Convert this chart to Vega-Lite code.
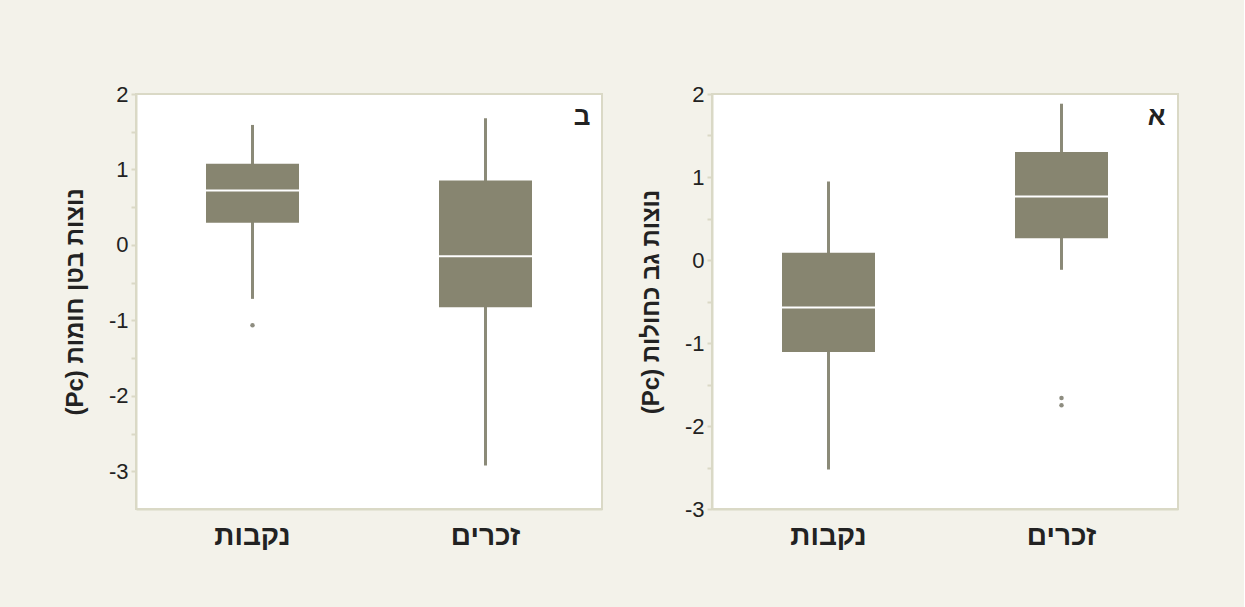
{
  "$schema": "https://vega.github.io/schema/vega-lite/v6.json",
  "background": "#f3f2ea",
  "padding": {"left": 62, "top": 82, "right": 65, "bottom": 57},
  "spacing": 35,
  "config": {
    "view": {"fill": "white", "stroke": "#dad9c6", "strokeWidth": 2},
    "axis": {
      "grid": false,
      "labelFont": "Liberation Sans",
      "labelColor": "#222222",
      "titleFont": "Liberation Sans",
      "titleColor": "#222222",
      "domainColor": "#dad9c6",
      "domainWidth": 2,
      "tickColor": "#dad9c6",
      "tickWidth": 2
    }
  },
  "datasets": {
    "boxes": [
      {"panel": "ב", "sex": "נקבות", "lower": -0.715, "q1": 0.295, "median": 0.72, "q3": 1.077, "upper": 1.59},
      {"panel": "ב", "sex": "זכרים", "lower": -2.923, "q1": -0.826, "median": -0.151, "q3": 0.852, "upper": 1.677},
      {"panel": "א", "sex": "נקבות", "lower": -2.525, "q1": -1.109, "median": -0.571, "q3": 0.087, "upper": 0.945},
      {"panel": "א", "sex": "זכרים", "lower": -0.118, "q1": 0.263, "median": 0.764, "q3": 1.302, "upper": 1.883}
    ],
    "outliers": [
      {"panel": "ב", "sex": "נקבות", "value": -1.065},
      {"panel": "א", "sex": "זכרים", "value": -1.663},
      {"panel": "א", "sex": "זכרים", "value": -1.751}
    ],
    "panels": [
      {"panel": "ב", "sex": "זכרים", "top": 2},
      {"panel": "א", "sex": "זכרים", "top": 2}
    ]
  },
  "hconcat": [
    {
      "width": 466,
      "height": 415,
      "layer": [
        {
          "data": {"name": "boxes"},
          "transform": [{"filter": "datum.panel === 'ב'"}],
          "mark": {"type": "rule", "color": "#8b8a78", "strokeWidth": 3},
          "encoding": {
            "x": {"field": "sex", "type": "nominal", "sort": ["נקבות", "זכרים"], "scale": {"paddingInner": 0, "paddingOuter": 0},
              "axis": {"title": null, "labelAngle": 0, "ticks": false, "labelFontSize": 28, "labelFontWeight": "bold", "labelPadding": 13}},
            "y": {"field": "lower", "type": "quantitative", "scale": {"domain": [-3.5, 2], "nice": false, "zero": false},
              "axis": {"title": "(Pc) נוצות בטן חומות", "titleFontSize": 24, "titleFontWeight": "bold", "titlePadding": 21,
                "values": [-3, -2.5, -2, -1.5, -1, -0.5, 0, 0.5, 1, 1.5, 2], "labelExpr": "datum.value % 1 === 0 ? '' + datum.value : ''",
                "labelFontSize": 22, "tickSize": 5, "labelPadding": 3}},
            "y2": {"field": "upper"}
          }
        },
        {
          "data": {"name": "boxes"},
          "transform": [{"filter": "datum.panel === 'ב'"}],
          "mark": {"type": "bar", "color": "#878570", "size": 93},
          "encoding": {
            "x": {"field": "sex", "type": "nominal", "sort": ["נקבות", "זכרים"]},
            "y": {"field": "q1", "type": "quantitative"},
            "y2": {"field": "q3"}
          }
        },
        {
          "data": {"name": "boxes"},
          "transform": [{"filter": "datum.panel === 'ב'"}],
          "mark": {"type": "tick", "color": "white", "size": 93, "thickness": 2, "opacity": 1},
          "encoding": {
            "x": {"field": "sex", "type": "nominal", "sort": ["נקבות", "זכרים"]},
            "y": {"field": "median", "type": "quantitative"}
          }
        },
        {
          "data": {"name": "outliers"},
          "transform": [{"filter": "datum.panel === 'ב'"}],
          "mark": {"type": "circle", "color": "#8e8d80", "size": 20, "opacity": 1},
          "encoding": {
            "x": {"field": "sex", "type": "nominal", "sort": ["נקבות", "זכרים"]},
            "y": {"field": "value", "type": "quantitative"}
          }
        },
        {
          "data": {"name": "panels"},
          "transform": [{"filter": "datum.panel === 'ב'"}],
          "mark": {"type": "text", "align": "right", "baseline": "alphabetic", "dx": 105, "dy": 31, "fontSize": 26, "fontWeight": "bold", "font": "Liberation Sans", "color": "#222222"},
          "encoding": {
            "x": {"field": "sex", "type": "nominal", "sort": ["נקבות", "זכרים"]},
            "y": {"field": "top", "type": "quantitative"},
            "text": {"field": "panel"}
          }
        }
      ]
    },
    {
      "width": 466,
      "height": 415,
      "layer": [
        {
          "data": {"name": "boxes"},
          "transform": [{"filter": "datum.panel === 'א'"}],
          "mark": {"type": "rule", "color": "#8b8a78", "strokeWidth": 3},
          "encoding": {
            "x": {"field": "sex", "type": "nominal", "sort": ["נקבות", "זכרים"], "scale": {"paddingInner": 0, "paddingOuter": 0},
              "axis": {"title": null, "labelAngle": 0, "ticks": false, "labelFontSize": 28, "labelFontWeight": "bold", "labelPadding": 13}},
            "y": {"field": "lower", "type": "quantitative", "scale": {"domain": [-3, 2], "nice": false, "zero": false},
              "axis": {"title": "(Pc) נוצות גב כחולות", "titleFontSize": 24, "titleFontWeight": "bold", "titlePadding": 21,
                "values": [-3, -2.5, -2, -1.5, -1, -0.5, 0, 0.5, 1, 1.5, 2], "labelExpr": "datum.value % 1 === 0 ? '' + datum.value : ''",
                "labelFontSize": 22, "tickSize": 5, "labelPadding": 3}},
            "y2": {"field": "upper"}
          }
        },
        {
          "data": {"name": "boxes"},
          "transform": [{"filter": "datum.panel === 'א'"}],
          "mark": {"type": "bar", "color": "#878570", "size": 93},
          "encoding": {
            "x": {"field": "sex", "type": "nominal", "sort": ["נקבות", "זכרים"]},
            "y": {"field": "q1", "type": "quantitative"},
            "y2": {"field": "q3"}
          }
        },
        {
          "data": {"name": "boxes"},
          "transform": [{"filter": "datum.panel === 'א'"}],
          "mark": {"type": "tick", "color": "white", "size": 93, "thickness": 2, "opacity": 1},
          "encoding": {
            "x": {"field": "sex", "type": "nominal", "sort": ["נקבות", "זכרים"]},
            "y": {"field": "median", "type": "quantitative"}
          }
        },
        {
          "data": {"name": "outliers"},
          "transform": [{"filter": "datum.panel === 'א'"}],
          "mark": {"type": "circle", "color": "#8e8d80", "size": 20, "opacity": 1},
          "encoding": {
            "x": {"field": "sex", "type": "nominal", "sort": ["נקבות", "זכרים"]},
            "y": {"field": "value", "type": "quantitative"}
          }
        },
        {
          "data": {"name": "panels"},
          "transform": [{"filter": "datum.panel === 'א'"}],
          "mark": {"type": "text", "align": "right", "baseline": "alphabetic", "dx": 104, "dy": 31, "fontSize": 26, "fontWeight": "bold", "font": "Liberation Sans", "color": "#222222"},
          "encoding": {
            "x": {"field": "sex", "type": "nominal", "sort": ["נקבות", "זכרים"]},
            "y": {"field": "top", "type": "quantitative"},
            "text": {"field": "panel"}
          }
        }
      ]
    }
  ]
}
